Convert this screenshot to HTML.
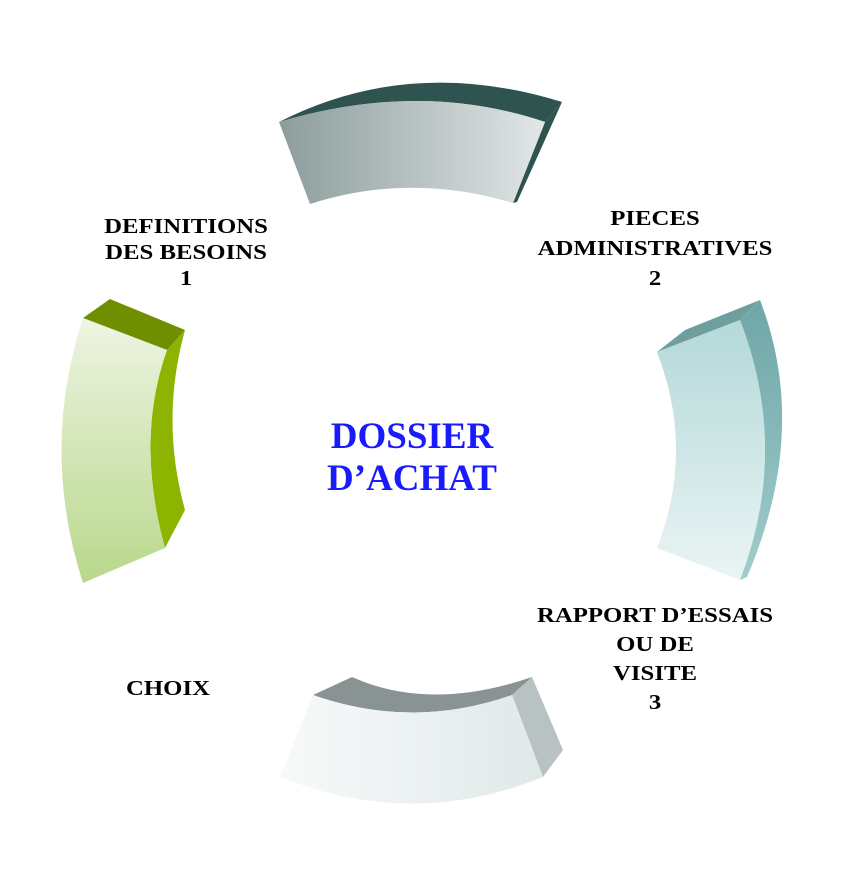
<!DOCTYPE html>
<html><head><meta charset="utf-8"><style>
body{margin:0;background:#fff}
svg{display:block}
text{font-family:"Liberation Serif",serif;font-weight:bold}
</style></head><body>
<svg width="850" height="878" viewBox="0 0 850 878">
<defs>
<linearGradient id="gTop" x1="0" x2="1" y1="0" y2="0"><stop offset="0" stop-color="#8c9c9c"/><stop offset="1" stop-color="#e2e6e6"/></linearGradient>
<linearGradient id="gLeft" x1="0" x2="0" y1="0" y2="1"><stop offset="0" stop-color="#eef4e2"/><stop offset="1" stop-color="#b8d88c"/></linearGradient>
<linearGradient id="gRight" x1="0" x2="0" y1="0" y2="1"><stop offset="0" stop-color="#b4d8d8"/><stop offset="1" stop-color="#eaf4f4"/></linearGradient>
<linearGradient id="gRightSide" x1="0" x2="0" y1="0" y2="1"><stop offset="0" stop-color="#6fa6a6"/><stop offset="1" stop-color="#a0cccc"/></linearGradient>
<linearGradient id="gBot" x1="0" x2="1" y1="0" y2="0"><stop offset="0" stop-color="#f8fafa"/><stop offset="1" stop-color="#e0e8e8"/></linearGradient>
</defs>
<g>
<path d="M279,122 Q410,55 562,102 L545,122 Q420,80 279,122Z" fill="#2f5450"/>
<path d="M545,122 L562,102 L517,202 L513,203Z" fill="#2f5450"/>
<path d="M279,122 Q420,80 545,122 L513,203 Q410,172 310,204Z" fill="url(#gTop)"/>
</g>
<g>
<path d="M83,318 L110,299 L185,330 L167,350Z" fill="#6f8f00"/>
<path d="M167,350 L185,330 Q160,420 185,510 L165,548 Q135,440 167,350Z" fill="#8cb400"/>
<path d="M83,318 L167,350 Q135,440 165,548 L83,583 Q40,450 83,318Z" fill="url(#gLeft)"/>
</g>
<g>
<path d="M657,352 L685,330 L760,300 L740,320Z" fill="#6e9e9e"/>
<path d="M740,320 L760,300 Q810,430 747,577 L740,580 Q790,450 740,320Z" fill="url(#gRightSide)"/>
<path d="M657,352 L740,320 Q790,450 740,580 L657,548 Q695,450 657,352Z" fill="url(#gRight)"/>
</g>
<g>
<path d="M313,695 L352,677 Q430,712 532,677 L512,695 Q413,730 313,695Z" fill="#8a9393"/>
<path d="M512,695 L532,677 L563,750 L543,777Z" fill="#b8c2c2"/>
<path d="M313,695 Q413,730 512,695 L543,777 Q413,830 280,777Z" fill="url(#gBot)"/>
</g>
<g font-size="21" fill="#000" text-anchor="middle">
<text transform="translate(186,0) scale(1.18,1)" y="233"><tspan x="0">DEFINITIONS</tspan><tspan x="0" dy="26">DES BESOINS</tspan><tspan x="0" dy="26">1</tspan></text>
<text transform="translate(655,0) scale(1.18,1)" y="225"><tspan x="0">PIECES</tspan><tspan x="0" dy="30">ADMINISTRATIVES</tspan><tspan x="0" dy="30">2</tspan></text>
<text transform="translate(655,0) scale(1.18,1)" y="622"><tspan x="0">RAPPORT D’ESSAIS</tspan><tspan x="0" dy="29">OU DE</tspan><tspan x="0" dy="29">VISITE</tspan><tspan x="0" dy="29">3</tspan></text>
<text transform="translate(168,0) scale(1.18,1)" x="0" y="695">CHOIX</text>
</g>
<g font-size="37" fill="#1a1aff" text-anchor="middle">
<text x="412" y="448">DOSSIER</text>
<text x="412" y="490">D’ACHAT</text>
</g>
</svg>
</body></html>
